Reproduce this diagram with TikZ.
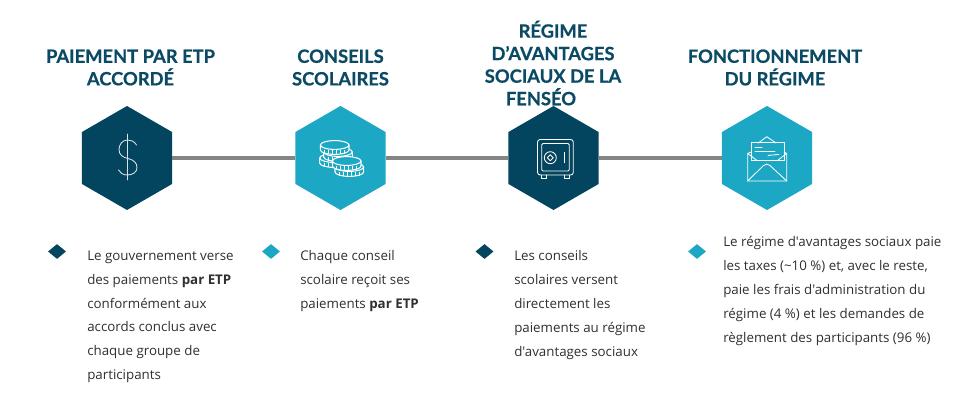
\documentclass[tikz,border=0pt]{standalone}
\usepackage{fontspec}
\setmainfont{Open Sans}[Ligatures=TeXOff]
\newfontfamily\headfont{Lato}[BoldFont={Lato Bold},BoldFeatures={FakeBold=0.6}]
\usetikzlibrary{shapes.geometric}
\definecolor{darkhex}{HTML}{03445E}
\definecolor{tealhex}{HTML}{1CA7C4}
\definecolor{headcol}{HTML}{0B4A65}
\definecolor{bodycol}{HTML}{303030}
\definecolor{linkcol}{HTML}{858585}
\tikzset{
  hexa/.style={regular polygon,regular polygon sides=6,shape border rotate=30,minimum size=78pt,inner sep=0pt,draw=none,fill=#1},
  mark dia/.style={diamond,aspect=1.2,minimum width=13.6pt,minimum height=11.2pt,inner sep=0pt,fill=#1},
  headtxt/.style={font=\headfont\fontsize{13.75pt}{16.9pt}\selectfont\bfseries,text=headcol,align=center,inner sep=0pt},
  bodytxt/.style={font=\fontsize{10pt}{17.9pt}\selectfont,text=bodycol,align=left,anchor=north west,inner sep=0pt},
  link/.style={draw=linkcol,line width=3.2pt},
  icon/.style={draw=white,line width=0.65pt,line join=round,line cap=round},
}
\newcommand{\coinshape}[2]{%
  \fill[tealhex] (#1-14.3,#2) -- (#1-14.3,#2+5) arc[start angle=180,end angle=0,x radius=14.3,y radius=4.4] -- (#1+14.3,#2) arc[start angle=0,end angle=-180,x radius=14.3,y radius=4.4];
  \draw[icon,line width=0.8pt] (#1,#2) ellipse[x radius=14.3,y radius=4.4];
  \draw[icon,line width=0.8pt] (#1-14.3,#2) -- (#1-14.3,#2+5) arc[start angle=180,end angle=0,x radius=14.3,y radius=4.4] -- (#1+14.3,#2);
  \foreach \k in {-10,-6,-2,2,6,10}{\draw[icon,line width=0.5pt] (#1+\k,#2+5.2) -- (#1+\k,#2+8.5);}
}
\begin{document}
\begin{tikzpicture}[x=0.75pt,y=-0.75pt]
\useasboundingbox (0,0) rectangle (980,416);
\fill[white] (0,0) rectangle (980,416);
% hexagons
\node[hexa=darkhex] (h1) at (127,158) {};
\node[hexa=tealhex] (h2) at (340.5,158) {};
\node[hexa=darkhex] (h3) at (553.5,158) {};
\node[hexa=tealhex] (h4) at (767,158) {};
\draw[link] (h1) -- (h2);
\draw[link] (h2) -- (h3);
\draw[link] (h3) -- (h4);
% headings
\node[headtxt] (t1) at (130.5,67.5) {PAIEMENT PAR ETP\\ACCORDÉ};
\node[headtxt] (t2) at (340.5,67.5) {CONSEILS\\SCOLAIRES};
\node[headtxt] (t3) at (553,63) {RÉGIME\\D’AVANTAGES\\SOCIAUX DE LA\\FENSÉO\hspace*{18pt}};
\node[headtxt] (t4) at (775,67.5) {FONCTIONNEMENT\\DU RÉGIME};
% bullets
\node[mark dia=darkhex] (d1) at (57,251.5) {};
\node[mark dia=tealhex] (d2) at (271,251.5) {};
\node[mark dia=darkhex] (d3) at (484.5,251.5) {};
\node[mark dia=tealhex] (d4) at (697,251.5) {};
% body text
\node[bodytxt] (b1) at (87,250.5) {Le gouvernement verse\\des paiements \textbf{par ETP}\\conformément aux\\accords conclus avec\\chaque groupe de\\participants};
\node[bodytxt] (b2) at (300,250.5) {Chaque conseil\\scolaire reçoit ses\\paiements \textbf{par ETP}};
\node[bodytxt] (b3) at (514,250.5) {Les conseils\\scolaires versent\\directement les\\paiements au régime\\d'avantages sociaux};
\node[bodytxt] (b4) at (723,236.5) {Le régime d'avantages sociaux paie\\les taxes (\textasciitilde 10 \%) et, avec le reste,\\paie les frais d'administration du\\régime (4 \%) et les demandes de\\règlement des participants (96 \%)};
% dollar icon
\draw[icon,draw=white!85!darkhex] (127.7,134) -- (127.7,180);
\draw[icon,draw=white!85!darkhex] (136.5,145) .. controls (134,141) and (131,140) .. (127.5,140)
  .. controls (122,140) and (119,145) .. (119,149.5)
  .. controls (119,155) and (123,157.5) .. (128,158.5)
  .. controls (134,160) and (137,163) .. (137,167.5)
  .. controls (137,172) and (133,175) .. (127.5,175)
  .. controls (123,175) and (120,173) .. (118.5,170);
% coins icon
\coinshape{334}{158}
\coinshape{338}{152}
\coinshape{334.7}{145}
\coinshape{349.3}{167}
\coinshape{346.7}{161}
% safe icon
\draw[icon,rounded corners=2] (537.5,139.5) rectangle (573.3,175);
\draw[icon,rounded corners=1] (541.7,143.5) rectangle (569.3,171);
\draw[icon] (550.3,157.7) circle[radius=6];
\draw[icon] (550.3,154.7) -- (553.3,157.7) -- (550.3,160.7) -- (547.3,157.7) -- cycle;
\draw[icon] (564,152.3) -- (564,162.7);
\draw[icon] (541.7,175) -- (541.7,178.3) -- (546,178.3) -- (546,175);
\draw[icon] (564.5,175) -- (564.5,178.3) -- (569,178.3) -- (569,175);
% envelope icon
\draw[icon] (758.3,143) -- (766.7,136.7) -- (776,143);
\draw[icon] (751,142.7) rectangle (784,160);
\draw[icon] (755,147.3) -- (762,147.3);
\draw[icon] (755,151) -- (775,151);
\draw[icon] (768,155.5) .. controls (771,153.5) and (772,156.5) .. (774,155) .. controls (776,153.5) and (777,155.5) .. (779,154.5);
\draw[icon] (751,152) -- (747.7,153.5) -- (747.7,181) -- (786.7,181) -- (786.7,153.5) -- (784,152);
\draw[icon] (747.7,153.5) -- (757,160.5) -- (777.5,160.5) -- (786.7,153.5);
\draw[icon] (747.7,181) -- (763.5,165.5) .. controls (765.5,163.7) and (768,163.7) .. (770,165.5) -- (786.7,181);
\end{tikzpicture}
\end{document}
